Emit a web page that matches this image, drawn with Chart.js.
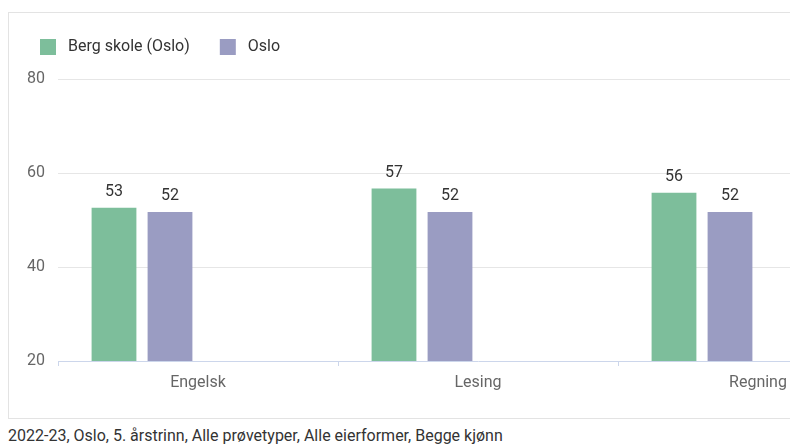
<!DOCTYPE html>
<html>
<head>
<meta charset="utf-8">
<script src="https://cdn.jsdelivr.net/npm/chart.js@4"></script>
<style>
  body { margin: 0; overflow: hidden; background: #fff; font-family: Roboto, sans-serif; }
  #box { position: absolute; left: 8px; top: 12px; width: 1000px; height: 407px; box-sizing: border-box;
         border-left: 1px solid #e3e3e3; border-top: 1px solid #e3e3e3; border-bottom: 1px solid #e3e3e3; }
  #wrap { position: absolute; left: 0; top: 0; width: 910px; height: 418px; }
  #note { position: absolute; left: 8px; top: 426px; font-size: 16px; color: #333; white-space: nowrap; }
</style>
</head>
<body>
<div id="box"></div>
<div id="wrap"><canvas id="chart"></canvas></div>
<div id="note">2022-23, Oslo, 5. årstrinn, Alle prøvetyper, Alle eierformer, Begge kjønn</div>
<script>
// categories and values
const subjects = ['Engelsk', 'Lesing', 'Regning'];
const bergSkole = [52.6, 56.7, 55.8];
const oslo = [51.7, 51.7, 51.7];
const yTicks = [20, 40, 60, 80];

const chart = document.querySelector('#chart').getContext('2d');

// extra space under the legend
const legendGap = {
    id: 'legendGap',
    beforeInit(c) {
        const fit = c.legend.fit;
        c.legend.fit = function () {
            fit.bind(c.legend)();
            this.height += 14;
        };
    }
};

// numbers above the bars
const barLabels = {
    id: 'barLabels',
    afterDatasetsDraw(c) {
        const ctx = c.ctx;
        ctx.save();
        ctx.font = '16px Roboto';
        ctx.fillStyle = '#333';
        ctx.textAlign = 'center';
        ctx.textBaseline = 'middle';
        c.data.datasets.forEach((ds, i) => {
            c.getDatasetMeta(i).data.forEach((bar, j) => {
                const v = ds.data[j];
                if (v == null) return;
                ctx.fillText(Math.round(v), bar.x, bar.y - 16);
            });
        });
        ctx.restore();
    }
};

new Chart(chart, {
    type: 'bar',
    data: {
        labels: subjects,
        datasets: [
            { label: ' Berg skole (Oslo)', data: bergSkole, backgroundColor: '#7dbe9b' },
            { label: ' Oslo', data: oslo, backgroundColor: '#9a9cc2' },
            { label: '', data: [null, null, null] },
            { label: '', data: [null, null, null] }
        ]
    },
    options: {
        responsive: true,
        maintainAspectRatio: false,
        animation: false,
        categoryPercentage: 0.8,
        barPercentage: 0.8,
        layout: { padding: { left: 10, top: 9, right: 12, bottom: 0 } },
        plugins: {
            tooltip: { enabled: false },
            legend: {
                align: 'start',
                labels: {
                    boxWidth: 16,
                    boxHeight: 16,
                    padding: 30,
                    color: '#333',
                    font: { family: 'Roboto', size: 16 },
                    filter: (item) => item.text !== ''
                }
            }
        },
        scales: {
            x: {
                afterFit: (s) => { s.height = 57; },
                grid: { drawOnChartArea: false, drawTicks: true, tickLength: 5, color: '#ccd6eb' },
                border: { color: '#ccd6eb' },
                ticks: { color: '#666', padding: 7, font: { family: 'Roboto', size: 16 } }
            },
            y: {
                min: 20,
                max: 80,
                afterFit: (s) => { s.width = 48; },
                afterBuildTicks: (s) => { s.ticks = yTicks.map(v => ({ value: v })); },
                border: { display: false },
                grid: {
                    drawTicks: false,
                    color: (ctx) => ctx.tick && ctx.tick.value === 20 ? 'rgba(0,0,0,0)' : '#e6e6e6'
                },
                ticks: { color: '#666', padding: 13, font: { family: 'Roboto', size: 16 } }
            }
        }
    },
    plugins: [legendGap, barLabels]
});
</script>
</body>
</html>
